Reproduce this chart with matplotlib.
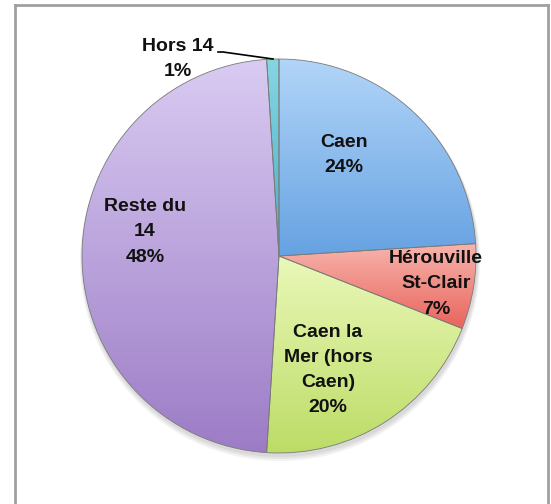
import numpy as np
import matplotlib
matplotlib.use("Agg")
import matplotlib.pyplot as plt
from matplotlib.colors import LinearSegmentedColormap

labels = ["Caen", "Hérouville\nSt-Clair", "Caen la\nMer (hors\nCaen)", "Reste du\n14", "Hors 14"]
values = [24, 7, 20, 48, 1]
top_colors = ["#b2d5f8", "#f7b4ac", "#eaf8b8", "#d9cbf2", "#86d6e2"]
bottom_colors = ["#66a2e2", "#e8645c", "#bcdc66", "#9c7cc6", "#4aaec4"]

fam = ["Liberation Sans", "DejaVu Sans"]
fsize = 14

W, H = 551, 504
fig = plt.figure(figsize=(W / 100, H / 100), dpi=100)
ax = fig.add_axes([0, 0, 1, 1])
cx, cy, r = 279, H - 256, 197

# soft shadow
for i, a in enumerate([0.05, 0.05, 0.05]):
    sh = plt.Circle((cx + 1, cy - 3 - i), r + 1 + i, color="black", alpha=a, lw=0, zorder=0)
    ax.add_patch(sh)

wedges, _ = ax.pie(values, center=(cx, cy), radius=r, startangle=90, counterclock=False,
                   colors=bottom_colors, frame=True,
                   wedgeprops=dict(edgecolor="#7a7a7a", linewidth=0.6))

for w, tc, bc in zip(wedges, top_colors, bottom_colors):
    bb = w.get_path().get_extents()
    cmap = LinearSegmentedColormap.from_list("g", [bc, tc])
    grad = np.linspace(0, 1, 256).reshape(-1, 1)
    im = ax.imshow(grad, cmap=cmap, origin="lower", aspect="auto",
                   extent=(bb.x0, bb.x1, bb.y0, bb.y1), zorder=2.5, interpolation="bilinear")
    im.set_clip_path(w)
    w.set_facecolor("none")
    w.set_zorder(3)

pct = [f"{v}%" for v in values]
positions = [(344, 155), (436, 284), (328, 370), (145, 232), (178, 59)]
for lab, p, (x, y) in zip(labels, pct, positions):
    ax.text(x, H - y, f"{lab}\n{p}", ha="center", va="center", fontsize=fsize,
            fontweight="bold", family=fam, linespacing=1.62, zorder=5, color="#111111")

# leader line for Hors 14
ax.plot([218, 223, 273], [H - 52, H - 52, H - 59], color="black", lw=1.2, zorder=5)

# frame
ax.plot([15, 15], [0, H - 5], color="#a0a0a0", lw=2, zorder=6)
ax.plot([15, 548], [H - 5, H - 5], color="#a0a0a0", lw=2, zorder=6)
ax.plot([548, 548], [H - 5, 0], color="#a0a0a0", lw=2, zorder=6)

ax.set_xlim(0, W)
ax.set_ylim(0, H)
ax.set_aspect("auto")
ax.axis("off")
fig.savefig("out.png", dpi=100)
